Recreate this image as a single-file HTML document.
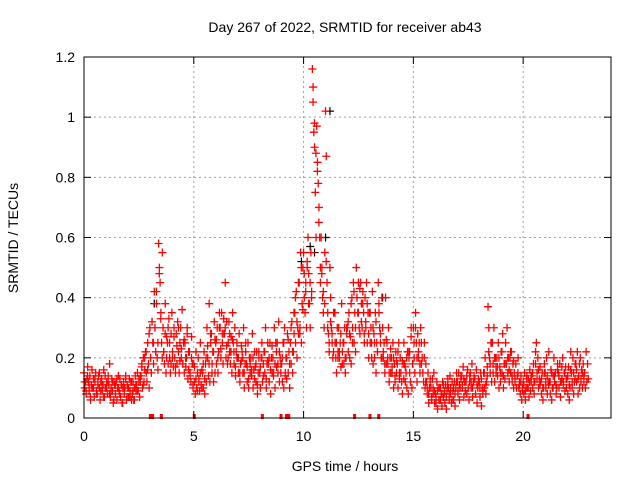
<!DOCTYPE html>
<html><head><meta charset="utf-8"><style>
body{margin:0;background:#fff;}
svg{display:block;font-family:"Liberation Sans",sans-serif;}
</style></head><body>
<svg id="chart" width="640" height="480">
<rect width="640" height="480" fill="#fff"/>
<g id="grid"></g>
<g id="pts"></g>
<g id="axes"></g>
<text x="345" y="32" font-size="14" text-anchor="middle">Day 267 of 2022, SRMTID for receiver ab43</text>
<text x="345" y="471" font-size="14" text-anchor="middle">GPS time / hours</text>
<text x="18" y="238" font-size="14" text-anchor="middle" transform="rotate(-90 18 238)">SRMTID / TECUs</text>
</svg>
<script>
const xTicks=[0,5,10,15,20];
const yTicks=[0,0.2,0.4,0.6,0.8,1,1.2];
const yTickLabels=["0","0.2","0.4","0.6","0.8","1","1.2"];
const binHours=0.2;
const binValues=[
[.15,.1,.12,.08,.13,.17],[.12,.09,.14,.06,.11,.1],[.1,.13,.07,.12,.15,.09],[.08,.11,.14,.1,.06,.12],
[.13,.09,.11,.16,.07,.1],[.1,.12,.08,.14,.11,.18],[.07,.1,.13,.09,.05,.12],[.11,.08,.12,.06,.1,.14],
[.09,.13,.07,.11,.05,.1],[.12,.08,.1,.14,.06,.11],[.1,.07,.13,.09,.12,.06],[.08,.12,.06,.1,.14,.09],
[.11,.15,.09,.13,.07,.12],[.14,.18,.1,.2,.12,.16],[.22,.15,.12,.25,.18,.1],[.3,.2,.15,.32,.25,.18],
[.42,.3,.22,.38,.2,.16],[.58,.5,.45,.35,.25,.55],[.3,.22,.18,.38,.15,.27],[.25,.18,.33,.2,.15,.28],
[.35,.22,.17,.3,.2,.15],[.28,.18,.32,.22,.15,.25],[.3,.2,.36,.18,.25,.15],[.25,.17,.2,.3,.13,.22],
[.22,.15,.12,.27,.18,.1],[.18,.12,.08,.22,.1,.15],[.2,.13,.09,.25,.11,.16],[.15,.1,.22,.08,.18,.12],
[.3,.2,.14,.38,.12,.25],[.28,.18,.22,.12,.32,.15],[.25,.18,.3,.15,.22,.35],[.3,.2,.35,.25,.18,.28],
[.28,.45,.2,.32,.18,.25],[.32,.22,.18,.27,.15,.35],[.25,.18,.3,.14,.22,.2],[.2,.15,.28,.12,.18,.24],
[.22,.15,.3,.1,.18,.25],[.18,.12,.25,.1,.2,.15],[.2,.14,.28,.1,.16,.22],[.17,.12,.22,.08,.15,.2],
[.15,.1,.2,.25,.12,.18],[.22,.15,.3,.1,.18,.25],[.18,.12,.25,.08,.2,.15],[.2,.15,.3,.1,.25,.17],
[.25,.15,.32,.12,.2,.18],[.18,.12,.25,.1,.3,.15],[.2,.13,.28,.15,.22,.1],[.25,.18,.32,.15,.22,.28],
[.35,.25,.42,.2,.3,.28],[.45,.3,.55,.25,.38,.5],[.55,.4,.35,.45,.3,.5],[.6,.48,.38,.3,.55,.42],
[1.16,1.1,.95,.9,.75,.6],[.97,.85,.78,.7,.6,.45],[.6,.5,.4,.35,.3,.55],[1.02,.87,.45,.35,.28,.22],
[.5,.4,.3,.25,.2,.35],[.35,.25,.2,.15,.3,.22],[.3,.2,.25,.17,.38,.22],[.25,.18,.3,.15,.2,.28],
[.3,.22,.35,.2,.27,.18],[.4,.3,.45,.25,.35,.22],[.5,.4,.35,.45,.3,.28],[.45,.38,.3,.42,.35,.25],
[.4,.3,.45,.25,.35,.2],[.35,.25,.3,.2,.42,.18],[.28,.2,.35,.15,.25,.22],[.45,.35,.3,.25,.2,.4],
[.3,.2,.25,.15,.4,.18],[.25,.18,.3,.12,.2,.15],[.2,.15,.25,.1,.18,.12],[.22,.15,.18,.1,.25,.13],
[.2,.15,.12,.08,.18,.25],[.18,.12,.15,.1,.22,.08],[.2,.15,.12,.3,.1,.18],[.3,.2,.15,.35,.25,.12],
[.28,.2,.25,.15,.3,.18],[.2,.15,.12,.25,.1,.18],[.12,.08,.15,.05,.1,.13],[.1,.06,.13,.08,.15,.05],
[.08,.05,.12,.03,.1,.06],[.1,.06,.08,.04,.12,.07],[.08,.05,.11,.03,.09,.13],[.1,.06,.14,.08,.05,.12],
[.09,.06,.12,.04,.1,.15],[.12,.08,.15,.06,.1,.14],[.14,.1,.17,.07,.12,.09],[.12,.08,.16,.1,.06,.14],
[.15,.1,.18,.07,.12,.13],[.13,.08,.16,.05,.1,.12],[.12,.07,.15,.04,.1,.09],[.15,.1,.2,.08,.12,.17],
[.37,.3,.2,.15,.25,.12],[.25,.18,.3,.12,.2,.15],[.2,.14,.25,.1,.17,.12],[.22,.15,.28,.1,.18,.13],
[.25,.18,.3,.15,.2,.12],[.2,.15,.22,.12,.18,.1],[.15,.12,.18,.1,.14,.2],[.1,.12,.08,.14,.06,.1],
[.12,.08,.15,.06,.1,.14],[.1,.13,.07,.16,.09,.12],[.14,.1,.18,.08,.12,.22],[.25,.15,.2,.1,.13,.17],
[.12,.08,.15,.06,.1,.18],[.15,.1,.2,.08,.12,.22],[.12,.08,.16,.06,.1,.14],[.2,.12,.15,.08,.1,.18],
[.15,.1,.18,.07,.12,.13],[.2,.12,.15,.09,.17,.1],[.13,.08,.17,.06,.1,.22],[.15,.1,.2,.08,.12,.18],
[.18,.12,.22,.08,.14,.1],[.2,.13,.16,.1,.18,.12],[.15,.1,.22,.12,.18,.13]
];
const binHours2=0.4;
const binValues2=[
[.12,.09,.14,.11,.07,.16],[.1,.13,.08,.12,.15,.09],[.11,.07,.14,.1,.12,.08],[.09,.12,.06,.11,.13,.1],
[.08,.11,.05,.1,.13,.07],[.1,.07,.12,.09,.06,.11],[.09,.12,.14,.17,.11,.2],[.22,.16,.28,.2,.32,.25],
[.3,.42,.25,.48,.33,.2],[.22,.28,.2,.3,.25,.18],[.2,.27,.17,.24,.3,.19],[.23,.18,.26,.2,.28,.16],
[.14,.2,.11,.17,.13,.09],[.12,.15,.1,.18,.13,.2],[.24,.18,.28,.15,.22,.26],[.26,.2,.3,.23,.28,.33],
[.3,.24,.2,.28,.22,.26],[.22,.17,.25,.2,.15,.19],[.2,.15,.22,.17,.13,.18],[.16,.2,.13,.18,.11,.22],
[.17,.2,.14,.22,.13,.19],[.2,.16,.24,.14,.18,.22],[.18,.22,.15,.2,.25,.14],[.2,.26,.18,.3,.22,.35],
[.4,.32,.45,.28,.5,.36],[.48,.42,.52,.38,.45,.4],[1.05,.98,.88,.82,.65,.5],[.48,.42,.38,.52,.3,.25],
[.32,.28,.22,.35,.25,.2],[.22,.28,.18,.25,.2,.3],[.32,.28,.38,.25,.42,.3],[.4,.35,.43,.32,.38,.28],
[.32,.38,.28,.35,.25,.3],[.25,.32,.22,.38,.28,.2],[.22,.18,.26,.2,.15,.23],[.17,.2,.14,.19,.22,.15],
[.15,.19,.13,.17,.2,.22],[.22,.27,.18,.25,.3,.2],[.22,.18,.25,.15,.2,.12],[.1,.08,.12,.07,.1,.09],
[.07,.09,.06,.1,.08,.11],[.09,.07,.11,.08,.1,.06],[.1,.08,.12,.09,.11,.13],[.11,.13,.09,.14,.1,.12],
[.12,.1,.14,.08,.11,.13],[.1,.13,.08,.15,.11,.14],[.22,.18,.25,.15,.2,.17],[.17,.2,.15,.22,.14,.18],
[.18,.2,.16,.22,.14,.19],[.13,.1,.15,.11,.12,.09],[.11,.09,.13,.1,.12,.14],[.15,.12,.18,.13,.16,.11],
[.13,.1,.15,.12,.14,.11],[.12,.15,.1,.14,.11,.16],[.14,.12,.17,.11,.15,.13],[.14,.11,.16,.12,.15,.13],
[.16,.13,.18,.12,.15,.14]
];
const blackTimes=[10.3,10.5,11.2,11.0,9.9,3.2,12.5,13.6];
const blackValues=[.57,.55,1.02,.6,.52,.38,.45,.4];
const markTimes=[3.0,3.1,3.5,5.0,8.1,8.95,9.2,9.3,12.3,13.0,13.4,20.2];

const X0=84,X1=611,Y0=418,Y1=57,XMAX=24,YMAX=1.2;
const sx=t=>X0+(X1-X0)*t/XMAX;
const sy=v=>Y0-(Y0-Y1)*v/YMAX;
const NS="http://www.w3.org/2000/svg";
function mk(tag,attrs,parent){const e=document.createElementNS(NS,tag);for(const k in attrs)e.setAttribute(k,attrs[k]);parent.appendChild(e);return e;}
const grid=document.getElementById('grid'),axes=document.getElementById('axes'),pts=document.getElementById('pts');
yTicks.forEach((v,i)=>{
  const y=sy(v);
  if(i>0&&i<yTicks.length-1){const g=mk('line',{x1:X0,x2:X1,y1:y,y2:y,stroke:'#a0a0a0','stroke-dasharray':'2,3'},grid);
  
  }
  mk('line',{x1:X0,x2:X0+7,y1:y,y2:y,stroke:'#000'},axes);
  mk('line',{x1:X1,x2:X1-7,y1:y,y2:y,stroke:'#000'},axes);
  const t=mk('text',{x:X0-9,y:y+5,'font-size':14,'text-anchor':'end'},axes);t.textContent=yTickLabels[i];
  
  
});
xTicks.forEach(v=>{
  const x=sx(v);
  if(v>0){const g=mk('line',{x1:x,x2:x,y1:Y0,y2:Y1,stroke:'#a0a0a0','stroke-dasharray':'2,3'},grid);
  
  }
  mk('line',{x1:x,x2:x,y1:Y0,y2:Y0-7,stroke:'#000'},axes);
  mk('line',{x1:x,x2:x,y1:Y1,y2:Y1+7,stroke:'#000'},axes);
  const t=mk('text',{x:x,y:Y0+23,'font-size':14,'text-anchor':'middle'},axes);t.textContent=String(v);
  
  
});
const fr=mk('rect',{x:X0,y:Y1,width:X1-X0,height:Y0-Y1,fill:'none',stroke:'#000'},axes);


const H=4;
const cross=(x,y)=>`M${x-H} ${y}h${2*H}M${x} ${y-H}v${2*H}`;
let d='';
blackTimes.forEach((t,i)=>{d+=cross(sx(t),sy(blackValues[i]));});
const bp=mk('path',{d:d,stroke:'#000','stroke-width':1.2,fill:'none'},pts);


d='';
binValues.forEach((vals,b)=>{vals.forEach((v,j)=>{const t=b*binHours+binHours*j/vals.length;d+=cross(sx(t),sy(v));});});
binValues2.forEach((vals,b)=>{vals.forEach((v,j)=>{const t=b*binHours2+0.03+binHours2*j/vals.length;d+=cross(sx(t),sy(v));});});
const rp=mk('path',{d:d,stroke:'#ff0000','stroke-width':1.3,fill:'none'},pts);


markTimes.forEach(t=>{const m=mk('rect',{x:sx(t)-1,y:Y0-4,width:3,height:5,fill:'#ff0000'},pts);

});
</script>
</body></html>
